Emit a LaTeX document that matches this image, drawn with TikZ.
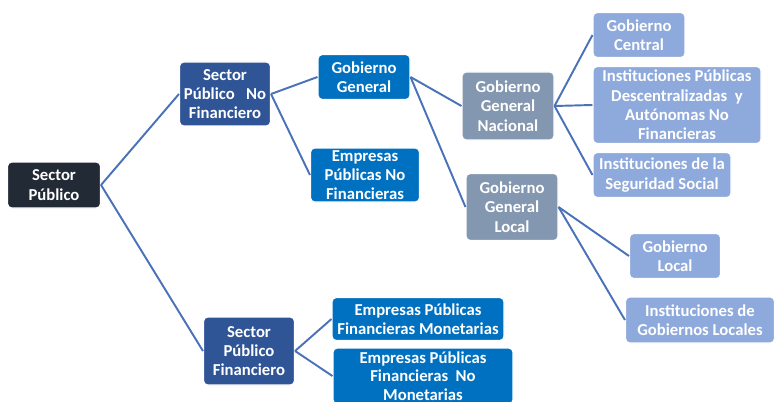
\documentclass[tikz,border=0pt]{standalone}
\usepackage{fontspec}
\setmainfont{Carlito}
\usepackage{tikz}
\usetikzlibrary{shapes,positioning}

\begin{document}
\begin{tikzpicture}[x=0.02cm,y=-0.02cm]
    \definecolor{nivelcero}{HTML}{222A35}
    \definecolor{niveluno}{HTML}{2F5597}
    \definecolor{niveldos}{HTML}{0070C0}
    \definecolor{niveltres}{HTML}{8497B0}
    \definecolor{nivelcuatro}{HTML}{8EA9DB}
    \definecolor{linea}{HTML}{4A72B8}

    \tikzset{
      caja/.style={rounded corners=2.5pt, text=white, align=center,
                   font=\fontsize{9.5}{11}\selectfont\bfseries,
                   inner sep=1pt, draw=white, line width=0.6pt},
      tam/.style 2 args={minimum width=#1*0.02cm, minimum height=#2*0.02cm},
      rama/.style={draw=linea, line width=1.1pt}
    }

    \clip (0,0) rectangle (774,402);

    % root
    \node[caja, fill=nivelcero, tam={93}{46}] (sp) at (54,185) {Sector\\Público};

    % first level
    \node[caja, fill=niveluno, tam={91}{64}] (spnf) at (225,94)
         {Sector\\Público\ \ \ No\\Financiero};
    \node[caja, fill=niveluno, tam={91}{68}] (spf) at (249,351)
         {Sector\\Público\\Financiero};

    % second level
    \node[caja, fill=niveldos, tam={92}{45}] (gg) at (364,77) {Gobierno\\General};
    \node[caja, fill=niveldos, tam={109}{54}] (epnf) at (365,175)
         {Empresas\\Públicas No\\Financieras};
    \node[caja, fill=niveldos, tam={172}{43}] (epfm) at (418,319)
         {Empresas Públicas\\Financieras Monetarias};
    \node[caja, fill=niveldos, tam={180}{56}, font=\fontsize{9.5}{10.5}\selectfont\bfseries]
         (epfnm) at (423,376)
         {Empresas Públicas\\Financieras\ \ No\\Monetarias};

    % third level
    \node[caja, fill=niveltres, tam={92}{68}] (ggn) at (508,106)
         {Gobierno\\General\\Nacional};
    \node[caja, fill=niveltres, tam={92}{67}] (ggl) at (512,207)
         {Gobierno\\General\\Local};

    % fourth level
    \node[caja, fill=nivelcuatro, tam={92}{45}] (gc) at (639,35) {Gobierno\\Central};
    \node[caja, fill=nivelcuatro, tam={168}{77}] (ipd) at (677,105)
         {Instituciones Públicas\\Descentralizadas\ \ y\\Autónomas No\\Financieras};
    \node[caja, fill=nivelcuatro, tam={138}{45}] (iss) at (662,175)
         {Instituciones de la\\Seguridad Social};
    \node[caja, fill=nivelcuatro, tam={91}{45}] (gl) at (675,256) {Gobierno\\Local};
    \node[caja, fill=nivelcuatro, tam={149}{46}] (igl) at (700,320)
         {Instituciones de\\Gobiernos Locales};

    % branches
    \draw[rama] (sp.east) -- (spnf.west);
    \draw[rama] (sp.east) -- (spf.west);
    \draw[rama] (spnf.east) -- (gg.west);
    \draw[rama] (spnf.east) -- (epnf.west);
    \draw[rama] (gg.east) -- (ggn.west);
    \draw[rama] (gg.east) -- (ggl.west);
    \draw[rama] (ggn.east) -- (gc.west);
    \draw[rama] (ggn.east) -- (ipd.west);
    \draw[rama] (ggn.east) -- (iss.west);
    \draw[rama] (ggl.east) -- (gl.west);
    \draw[rama] (ggl.east) -- (igl.west);
    \draw[rama] (spf.east) -- (epfm.west);
    \draw[rama] (spf.east) -- (epfnm.west);
\end{tikzpicture}
\end{document}
